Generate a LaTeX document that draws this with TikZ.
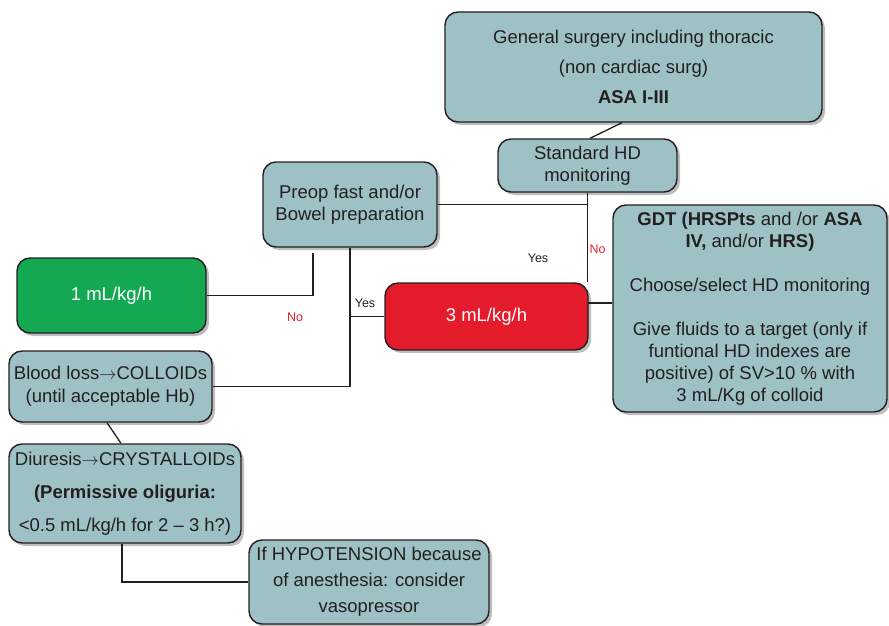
\documentclass[tikz,border=0pt]{standalone}
\usepackage{fontspec}
\setmainfont{Liberation Sans}
\usetikzlibrary{shadows}
\definecolor{boxteal}{HTML}{9DC1C4}
\definecolor{boxgreen}{HTML}{14A853}
\definecolor{boxred}{HTML}{E31B2B}
\definecolor{ink}{HTML}{231F20}
\definecolor{shade}{HTML}{BEBEBE}
\definecolor{labred}{HTML}{E8202E}
\newcommand{\toarrow}{\ensuremath{\rightarrow}}
\begin{document}
\begin{tikzpicture}[x=1pt,y=-1pt,
  box/.style={draw=ink, line width=1.4pt, rounded corners=13pt, align=center,
    inner sep=0pt, text=ink, font=\fontsize{18.5}{22}\selectfont,
    drop shadow={shadow xshift=3pt, shadow yshift=-3pt, fill=shade, opacity=1}},
  tealbox/.style={box, fill=boxteal},
  greenbox/.style={box, fill=boxgreen, text=white},
  redbox/.style={box, fill=boxred, text=white},
  link/.style={draw=ink, line width=1.3pt},
  lbl/.style={font=\fontsize{12.5}{14}\selectfont, inner sep=0pt, text=ink},
  nolbl/.style={lbl, text=labred},
]
\useasboundingbox (0,0) rectangle (889,626);

% boxes
\node[tealbox, minimum width=377pt, minimum height=110pt, font=\fontsize{18.5}{30}\selectfont] (top) at (633.5,67)
  {General surgery including thoracic\\(non cardiac surg)\\\textbf{ASA I-III}};
\node[tealbox, minimum width=179pt, minimum height=53pt] (std) at (587.5,165.5)
  {Standard HD\\monitoring};
\node[tealbox, minimum width=174pt, minimum height=85pt] (preop) at (350,204.5)
  {Preop fast and/or\\Bowel preparation};
\node[greenbox, minimum width=189pt, minimum height=75pt] (g1) at (111.5,295.5)
  {1 mL/kg/h};
\node[redbox, minimum width=203pt, minimum height=67pt] (r3) at (486.5,316.5)
  {3 mL/kg/h};
\node[tealbox, minimum width=274pt, minimum height=207pt] (gdt) at (750,308.5)
  {\textbf{GDT (HRSPts} and /or \textbf{ASA}\\\textbf{IV,} and/or \textbf{HRS)}\\[22pt]
   Choose/select HD monitoring\\[22pt]
   Give fluids to a target (only if\\funtional HD indexes are\\positive) of SV>10 \% with\\3 mL/Kg of colloid};
\node[tealbox, minimum width=203pt, minimum height=71pt, font=\fontsize{18.5}{23}\selectfont] (blood) at (110.5,386.5)
  {Blood loss\toarrow COLLOIDs\\(until acceptable Hb)};
\node[tealbox, minimum width=232pt, minimum height=99pt, font=\fontsize{18.5}{33}\selectfont] (diu) at (125,493.5)
  {Diuresis\toarrow CRYSTALLOIDs\\\textbf{(Permissive oliguria:}\\<0.5 mL/kg/h for 2 – 3 h?)};
\node[tealbox, minimum width=240pt, minimum height=84pt, font=\fontsize{18.5}{26}\selectfont] (hyp) at (369,582)
  {If HYPOTENSION because\\of anesthesia: consider\\vasopressor};

% connectors
\coordinate (gstub) at (313,253);
\draw[link] ([xshift=-11.5pt]top.south) -- ([xshift=2.5pt]std.north);
\draw[link] (std.south) -- (std.south |- r3.north);
\draw[link] (preop.east) -- (std.south |- preop.east);
\coordinate (rj) at (588,303);
\draw[link] (rj) -- (gdt.west |- rj);
\draw[link] (preop.south) |- (blood.east);
\draw[link] (r3.west -| preop.south) -- (r3.west);
\draw[link] (gstub) |- (g1.east);
\draw[link] ([xshift=-3.5pt]blood.south) -- ([xshift=-4pt]diu.north);
\draw[link] ([xshift=-3pt]diu.south) |- (hyp.west);

% branch labels
\node[nolbl] (noA) at (597.5,249) {No};
\node[lbl] (yesA) at (538,258) {Yes};
\node[lbl] (yesB) at (365,303) {Yes};
\node[nolbl] (noB) at (295,317) {No};
\end{tikzpicture}
\end{document}
